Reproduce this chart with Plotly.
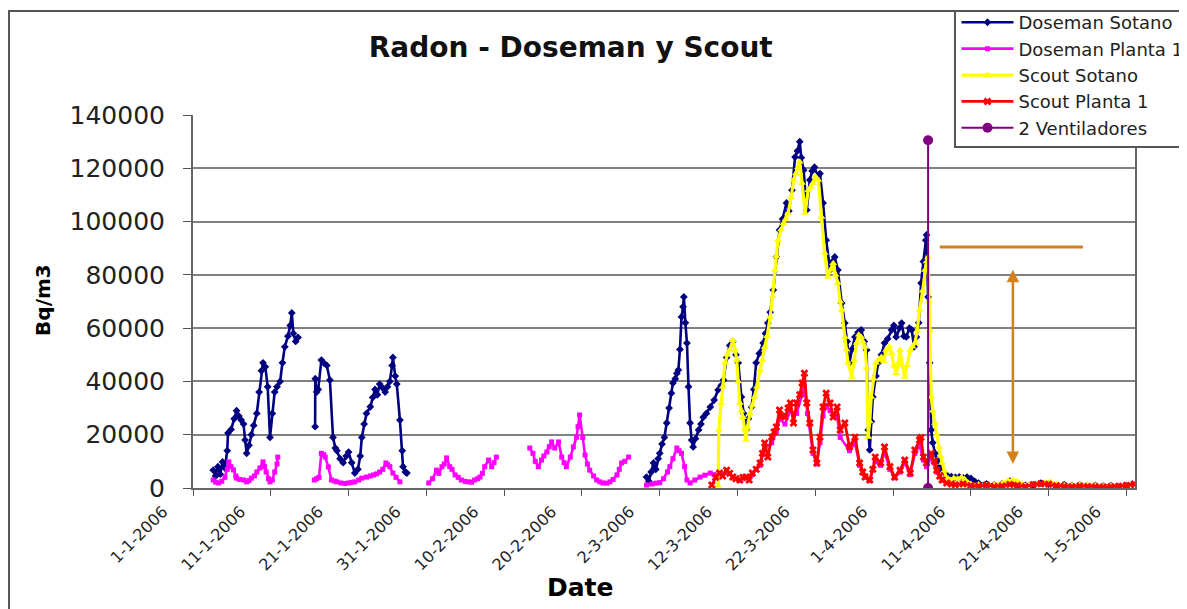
import plotly.graph_objects as go
import pandas as pd

BASE = pd.Timestamp("2006-01-01")

# ---- axis ticks ----
tick_days = [0, 10, 20, 30, 40, 50, 60, 70, 80, 90, 100, 110, 120]
tick_labels = ["1-1-2006", "11-1-2006", "21-1-2006", "31-1-2006", "10-2-2006",
               "20-2-2006", "2-3-2006", "12-3-2006", "22-3-2006", "1-4-2006",
               "11-4-2006", "21-4-2006", "1-5-2006"]
y_ticks = [0, 20000, 40000, 60000, 80000, 100000, 120000, 140000]
y_tick_labels = ["0", "20000", "40000", "60000", "80000", "100000", "120000", "140000"]

# ---- Doseman Sotano (days since 1-1-2006, Bq/m3); None = gap ----
ds_days = [2.6, 2.9, 3.2, 3.5, 3.8, 4.1, 4.4, 4.5, 4.9, 5.3, 5.6, 5.9, 6.2, 6.5, 6.7, 6.9,
           7.2, 7.5, 7.8, 8.2, 8.5, 8.8, 9.0, 9.3, 9.6, 9.9, 10.2, 10.5, 10.8, 11.2, 11.5,
           11.8, 12.2, 12.5, 12.7, 12.9, 13.2, 13.5,
           14.5,
           15.70, 15.72, 15.9, 16.1, 16.5, 16.8, 17.2, 17.6, 18.0, 18.3, 18.5, 18.9, 19.3,
           19.7, 20.0, 20.4, 20.8, 21.2, 21.5, 21.7, 22.0, 22.3, 22.8, 23.1, 23.4, 23.7,
           24.0, 24.4, 24.7, 25.0, 25.3, 25.6, 25.7, 26.0, 26.2, 26.6, 26.9, 27.0, 27.3, 27.5,
           40.0,
           58.3, 58.6, 58.9, 59.2, 59.5, 59.8, 60.0, 60.3, 60.6, 60.9, 61.2, 61.5, 61.7,
           62.0, 62.2, 62.4, 62.6, 62.8, 63.0, 63.1, 63.3, 63.5, 63.7, 63.9, 64.1, 64.3,
           64.6, 65.0, 65.3, 65.6, 66.0, 66.5, 67.0, 67.5, 67.9, 68.2, 68.6, 69.0, 69.4,
           69.8, 70.1, 70.5, 70.8, 71.1, 71.4, 71.8, 72.1, 72.4, 72.8, 73.3, 73.6, 73.9,
           74.2, 74.6, 75.0, 75.4, 75.8, 76.3, 76.6, 77.0, 77.4, 77.7, 78.0, 78.2, 78.5,
           78.9, 79.3, 79.6, 79.9, 80.3, 80.6, 81.0, 81.4, 81.9, 82.2, 82.5, 82.9, 83.4,
           83.8, 84.1, 84.4, 84.7, 85.1, 85.5, 85.9, 86.3, 86.6, 86.8, 87.0, 87.2, 87.4,
           87.8, 88.1, 88.5, 88.9, 89.3, 89.8, 90.1, 90.4, 90.8, 91.1, 91.4, 91.7, 92.1,
           92.4, 92.7, 93.0, 93.3, 93.6, 93.9, 94.2, 94.3, 94.5, 94.7, 94.9, 95.1, 95.4,
           95.7, 96.0, 96.4, 96.9, 97.5, 98.0, 98.5, 99.0, 99.5, 100.0, 100.5, 101.0,
           102, 103, 104, 105, 106, 107, 108, 109, 110, 111, 112, 113, 114, 115, 116,
           117, 118, 119, 120, 120.8]
ds_vals = [6700, 4500, 8000, 5200, 9800, 7500, 14000, 20600, 22000, 26000, 29000, 27000,
           25500, 24000, 18000, 13000, 16000, 20000, 23500, 28000, 36000, 44000, 47000,
           45500, 38000, 19000, 28000, 36000, 38000, 40000, 47000, 53000, 57000, 61000,
           65700, 58000, 55000, 56500,
           None,
           23000, 41000, 36000, 37000, 48000, 47000, 46000, 40500, 19000, 15000, 14000,
           11000, 9500, 12000, 13500, 9500, 5600, 7000, 12000, 19000, 24000, 28000, 30500,
           34000, 37000, 35000, 39000, 37500, 36000, 38000, 40000, 46000, 49000, 42000,
           39000, 25500, 14000, 8000, 6000, 5600,
           None,
           4100, 2500, 6000, 9400, 7000, 11000, 13000, 16500, 19000, 24400, 30000, 35600,
           39400, 41000, 43000, 44300, 52000, 64200, 68000, 71700, 62000, 54400, 38000,
           24400, 18000, 15400, 18500, 21800, 24000, 26600, 28000, 30400, 33000, 36800,
           38500, 40500, 49000, 53500, 55000, 50000, 47000, 34200, 28000, 21800, 26000,
           30400, 37000, 47000, 50500, 54400, 58000, 61900, 66000, 74300, 86700, 96800,
           101000, 107000, 104000, 111800, 124200, 126500, 130000, 124000, 119300, 104300,
           115600, 119000, 120400, 117000, 118000, 107000, 93000, 81800, 85000, 86700,
           81800, 69400, 61900, 55000, 47000, 52000, 56700, 58500, 59300, 55000, 51800,
           21800, 14300, 25000, 34200, 42000, 47000, 50000, 54400, 56000, 59300, 61000,
           56700, 60000, 61900, 57000, 56700, 60000, 59300, 53000, 56700, 62000, 76900,
           85000, 93000, 95000, 71700, 47000, 21800, 17000, 13000, 10500, 8000, 6500, 4900,
           4300, 4000, 4200, 3800, 4100, 3600, 2500, 1800,
           1500, 1200, 1600, 2600, 1400, 1000, 1200, 1800, 1500, 1000, 1300, 900, 1100,
           800, 1000, 700, 900, 600, 1000, 1300]

# ---- Doseman Planta 1 ----
dp_days = [2.6, 2.9, 3.3, 3.7, 4.1, 4.4, 4.6, 4.9, 5.2, 5.5, 5.6, 6.0, 6.5, 6.9, 7.2, 7.5,
           7.9, 8.2, 8.6, 9.0, 9.2, 9.4, 9.7, 9.9, 10.2, 10.5, 10.8, 10.9,
           12.0,
           15.6, 15.9, 16.2, 16.5, 16.8, 17.0, 17.4, 17.8, 18.2, 18.5, 19.0, 19.5, 20.0,
           20.4, 20.8, 21.3, 21.7, 22.3, 22.8, 23.2, 23.6, 24.0, 24.4, 24.8, 25.0, 25.3,
           25.7, 26.1, 26.6,
           28.0,
           30.3, 30.8, 31.3, 31.6, 32.0, 32.3, 32.6, 33.0, 33.3, 33.7, 34.1, 34.5, 35.0,
           35.4, 35.8, 36.2, 36.6, 36.9, 37.2, 37.5, 38.0, 38.4, 38.7, 39.0,
           41.0,
           43.3, 43.7, 44.0, 44.4, 44.8, 45.1, 45.5, 45.8, 46.1, 46.5, 47.0, 47.4, 47.7,
           48.0, 48.5, 48.9, 49.3, 49.5, 49.7, 50.1, 50.4, 50.7, 51.0, 51.5, 51.9, 52.3,
           52.7, 53.2, 53.6, 54.0, 54.5, 54.8, 55.1, 55.5, 56.0,
           57.0,
           58.3, 59.0, 59.5, 60.0, 60.5, 61.0, 61.3, 61.7, 62.2, 62.5, 62.8, 63.2, 63.5,
           63.9, 64.5, 65.2, 65.8, 66.5, 67.0, 67.5, 68.0, 68.6, 69.4, 70.3, 71.1, 71.9,
           72.9, 73.5, 74.4, 75.0, 75.4, 76.1, 76.8, 77.6, 78.3, 78.6, 79.0, 79.7, 80.2,
           80.6, 81.0, 81.4, 81.9, 82.8, 83.2, 84.4, 85.1, 85.7, 86.4, 87.0, 87.7, 88.4,
           88.9, 89.6, 90.2, 90.9, 91.5, 92.2, 92.8, 93.4, 93.9, 94.3, 94.9, 95.6, 96.3]
dp_vals = [3000, 2200, 1900, 2500, 4000, 7000, 9800, 8000, 6800, 4500, 3700, 3200, 3000,
           2300, 2800, 3700, 4500, 6000, 7500, 9800, 8000, 6000, 3500, 2300, 3000, 6000,
           9000, 11600,
           None,
           3000, 3500, 4000, 13000, 12500, 11600, 7900, 3000, 2600, 2300, 1900, 1700, 1900,
           2100, 2300, 3000, 3700, 4100, 4500, 4900, 5300, 6000, 7000, 9400, 8800, 8000,
           5600, 4000, 2300,
           None,
           1900, 3500, 6700, 5500, 8000, 9000, 11300, 8000, 7000, 4900, 4000, 3000, 2500,
           2300, 2200, 3000, 3500, 4100, 5500, 8000, 10500, 8000, 9500, 11600,
           None,
           15000, 13000, 10000, 8000, 10500, 12000, 13500, 15500, 17300, 15000, 17300,
           11600, 9500, 8000, 11600, 15400, 19100, 23000, 27400, 19000, 12400, 9000, 6700,
           4500, 3000, 2300, 1900, 1800, 2300, 3200, 4900, 7000, 9400, 10000, 11600,
           None,
           1100, 1500, 1800, 2000, 3500, 6000, 8000, 11000, 15000, 14000, 13000, 8000, 3000,
           1900, 3000, 4100, 4800, 5600, 5000, 5300, 5000, 6000, 4000, 2800, 3800, 5000,
           8500, 15000, 17000, 21000, 26000, 24000, 29000, 28000, 35000, 38000, 28000,
           13000, 9000, 17000, 27000, 31000, 29000, 27000, 19000, 14000, 17000, 8500, 4000,
           2800, 10000, 8500, 13500, 7000, 3800, 6000, 9500, 5000, 13000, 16000, 10500,
           8000, 11500, 6000, 2800]

# ---- Scout Sotano ----
ss_days = [67.5, 67.6, 67.9, 68.1, 68.4, 68.7, 69.0, 69.4, 69.7, 69.9, 70.1, 70.3, 70.5,
           70.7, 70.9, 71.1, 71.3, 71.6, 71.9, 72.2, 72.5, 72.9, 73.2, 73.5, 73.8, 74.2,
           74.5, 74.8, 75.0, 75.2, 75.6, 75.9, 76.2, 76.5, 76.9, 77.2, 77.5, 77.8, 78.0,
           78.3, 78.7, 79.1, 79.4, 79.7, 80.0, 80.4, 80.8, 81.2, 81.6, 82.0, 82.3, 82.6,
           82.9, 83.2, 83.4, 83.8, 84.0, 84.2, 84.7, 85.0, 85.3, 85.6, 85.9, 86.1, 86.4,
           86.6, 86.8, 87.0, 87.2, 87.5, 87.8, 88.1, 88.5, 88.8, 89.1, 89.5, 89.8, 90.1,
           90.4, 90.7, 90.9, 91.2, 91.5, 91.8, 92.2, 92.5, 92.8, 93.1, 93.4, 93.8, 94.1,
           94.3, 94.5, 94.6, 94.7, 94.9, 95.1, 95.4, 95.6, 95.9, 96.1, 96.3, 96.6, 96.8,
           97.1, 97.4, 97.8, 98.3, 98.8, 99.2, 99.6, 100.0, 101, 102, 103, 104, 104.8,
           105.4, 106.0, 106.6, 107.5, 108.5, 109.5, 110.2, 111, 112, 113, 114, 115, 116,
           117, 118, 119, 120, 121]
ss_vals = [800, 21800, 31900, 38000, 47000, 50000, 51800, 55500, 52000, 48000, 40000,
           31900, 29000, 26600, 22000, 18000, 23000, 28100, 31000, 34200, 38000, 44300,
           48000, 52900, 57000, 64200, 72000, 81800, 87000, 93000, 97000, 99400, 101000,
           103200, 109000, 115600, 118000, 120400, 122500, 114500, 103200, 111800, 113000,
           114500, 117000, 115600, 101700, 88200, 79200, 82000, 84400, 80000, 76900, 70000,
           66800, 56700, 52000, 47000, 41700, 48000, 54400, 57500, 56700, 55000, 52900,
           45000, 19100, 25000, 34200, 41000, 47000, 48000, 49200, 47500, 51800, 53000,
           50600, 46000, 43100, 47000, 51800, 46000, 41700, 46000, 51800, 53000, 54400,
           59000, 66800, 74000, 81800, 85000, 86700, 70000, 59300, 34200, 29000, 24400,
           20000, 15400, 12000, 9400, 6500, 4100, 3500, 3000, 3800, 3500, 4000, 3300, 2000,
           1500, 1300, 1000, 1200, 1800, 2800, 3000, 2500, 1500, 1200, 1500, 2000, 2300,
           1500, 1000, 900, 1200, 1300, 900, 700, 800, 600, 900, 1200]

# ---- Scout Planta 1 ----
sp_days = [66.7, 67.2, 67.7, 68.1, 68.6, 69.0, 69.4, 69.8, 70.3, 70.7, 71.1, 71.5, 71.9,
           72.4, 72.9, 73.2, 73.5, 73.9, 74.4, 74.7, 75.0, 75.4, 75.7, 76.1, 76.5, 76.8,
           77.2, 77.6, 78.0, 78.3, 78.6, 78.9, 79.3, 79.7, 80.2, 80.6, 81.0, 81.4, 81.9,
           82.3, 82.8, 83.2, 83.8, 84.4, 85.1, 85.7, 86.1, 86.4, 87.0, 87.4, 87.7, 88.4,
           88.9, 89.6, 90.2, 90.9, 91.5, 92.2, 92.8, 93.4, 93.6, 93.9, 94.3, 94.9, 95.3,
           95.6, 96.0, 96.3, 96.9, 97.5, 98, 99, 100, 101, 102, 103, 104, 105, 106, 107,
           108, 109, 110, 111, 112, 113, 114, 115, 116, 117, 118, 119, 120, 121]
sp_vals = [1100, 4000, 5600, 4500, 6700, 5500, 4100, 3500, 3000, 4000, 4100, 3000, 5600,
           7000, 9400, 13000, 16900, 11600, 19100, 21000, 22900, 29300, 27000, 26600,
           30000, 31900, 24400, 31900, 35000, 39400, 43100, 31900, 24400, 14300, 9400,
           19100, 30400, 35600, 31900, 26600, 30400, 21800, 24400, 15400, 19100, 9400,
           6000, 4100, 3000, 7000, 11600, 9400, 15400, 8000, 4100, 6700, 10500, 5600,
           14300, 18000, 19000, 11600, 9400, 13000, 10000, 6700, 4500, 3000, 1900, 1500,
           1200, 1500, 900, 700, 1100, 600, 800, 1300, 1000, 600, 1200, 1600, 1400, 900,
           700, 500, 800, 600, 500, 400, 500, 700, 1000, 1500]

# ---- 2 Ventiladores ----
vent_days = [94.5, 94.5]
vent_vals = [0, 130500]

# ---- orange annotation (level line and double arrow) ----
level_days = [96.0, 114.4]
level_val = 90500
arrow_day = 105.4
arrow_vals = [82500, 9000]


def to_dates(days):
    return [BASE + pd.Timedelta(days=d) for d in days]


FONT = "DejaVu Sans"
GRID = "#808080"
BORDER = "#555555"

fig = go.Figure()
fig.add_trace(go.Scatter(x=to_dates(ds_days), y=ds_vals, name="Doseman Sotano",
                         mode="lines+markers", connectgaps=False,
                         line=dict(color="#000080", width=2.6),
                         marker=dict(symbol="diamond", size=6, color="#000080")))
fig.add_trace(go.Scatter(x=to_dates(dp_days), y=dp_vals, name="Doseman Planta 1",
                         mode="lines+markers", connectgaps=False,
                         line=dict(color="#FF00FF", width=2.6),
                         marker=dict(symbol="square", size=5, color="#FF00FF")))
fig.add_trace(go.Scatter(x=to_dates(ss_days), y=ss_vals, name="Scout Sotano",
                         mode="lines+markers",
                         line=dict(color="#FFFF00", width=3.2),
                         marker=dict(symbol="triangle-up", size=7, color="#FFFF00")))
fig.add_trace(go.Scatter(x=to_dates(sp_days), y=sp_vals, name="Scout Planta 1",
                         mode="lines+markers",
                         line=dict(color="#FF0000", width=2.8),
                         marker=dict(symbol="x", size=7, color="#FF0000")))
fig.add_trace(go.Scatter(x=to_dates(vent_days), y=vent_vals, name="2 Ventiladores",
                         mode="lines+markers",
                         line=dict(color="#800080", width=2),
                         marker=dict(symbol="circle", size=10, color="#800080")))

ORANGE = "#D4801E"
fig.add_shape(type="line", xref="x", yref="y",
              x0=BASE + pd.Timedelta(days=level_days[0]), y0=level_val,
              x1=BASE + pd.Timedelta(days=level_days[1]), y1=level_val,
              line=dict(color=ORANGE, width=3))
fig.add_annotation(x=BASE + pd.Timedelta(days=arrow_day), y=arrow_vals[1],
                   ax=BASE + pd.Timedelta(days=arrow_day), ay=arrow_vals[0],
                   xref="x", yref="y", axref="x", ayref="y", text="",
                   showarrow=True, arrowhead=2, arrowside="end+start",
                   arrowsize=1, arrowwidth=2.5, arrowcolor=ORANGE)

# outer chart border
fig.add_shape(type="rect", xref="paper", yref="paper",
              x0=-0.1953, x1=1.2, y0=-0.4, y1=1.2788,
              line=dict(color=BORDER, width=2), layer="below")
# legend frame (drawn as a shape so the entries can sit freely inside)
fig.add_shape(type="rect", xref="paper", yref="paper",
              x0=0.8089, x1=1.2, y0=0.9142, y1=1.2788,
              fillcolor="white", line=dict(color=BORDER, width=2), layer="above")

# axis titles as annotations
fig.add_annotation(text="<b>Bq/m3</b>", xref="paper", yref="paper",
                   x=-0.160, y=0.505, xanchor="center", yanchor="middle",
                   textangle=-90, showarrow=False,
                   font=dict(family=FONT, size=20, color="#000000"))
fig.add_annotation(text="<b>Date</b>", xref="paper", yref="paper",
                   x=0.411, y=-0.268, xanchor="center", yanchor="middle",
                   showarrow=False,
                   font=dict(family=FONT, size=25, color="#000000"))

fig.update_layout(
    width=1179, height=601, autosize=False,
    margin=dict(l=185, r=52, t=107, b=121, autoexpand=False),
    paper_bgcolor="white", plot_bgcolor="white",
    title=dict(text="<b>Radon - Doseman y Scout</b>", xref="paper", yref="container",
               x=0.401, xanchor="center", y=0.935, yanchor="middle",
               font=dict(family=FONT, size=28, color="#111111")),
    showlegend=True,
    legend=dict(x=0.8105, y=1.2975, xanchor="left", yanchor="top",
                bgcolor="rgba(0,0,0,0)", borderwidth=0,
                font=dict(family=FONT, size=18, color="#222222"),
                itemwidth=52, tracegroupgap=0),
    xaxis=dict(type="date",
               range=[BASE, BASE + pd.Timedelta(days=121.1)],
               tickmode="array", tickvals=to_dates(tick_days), ticktext=tick_labels,
               tickangle=-45, ticks="outside", ticklen=6, tickcolor=BORDER,
               tickfont=dict(family=FONT, size=16, color="#222222"),
               showgrid=False, showline=True, linecolor="#666666", linewidth=2,
               zeroline=False, ticklabelshift=-30, automargin=False),
    yaxis=dict(range=[0, 140000], tickmode="array", tickvals=y_ticks,
               ticktext=y_tick_labels,
               ticks="outside", ticklen=8, tickcolor=BORDER,
               tickfont=dict(family=FONT, size=25, color="#222222"),
               showgrid=True, gridcolor=GRID, gridwidth=1.6,
               showline=True, linecolor="#666666", linewidth=2, mirror=True,
               zeroline=False, ticklabelstandoff=13, automargin=False),
)

fig.write_html("out.html")
